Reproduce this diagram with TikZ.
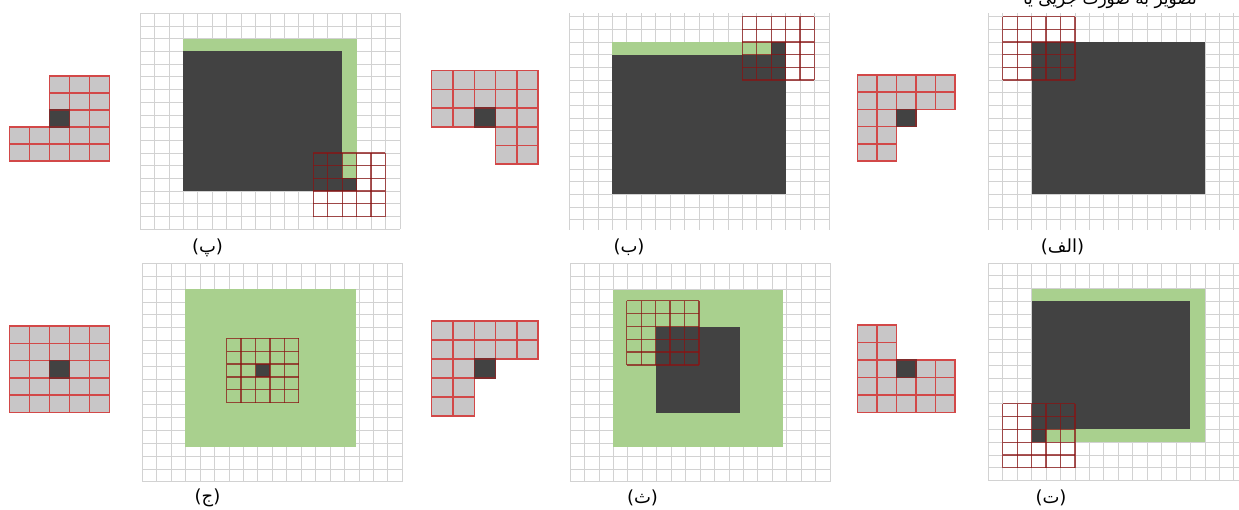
\documentclass[tikz,border=0pt]{standalone}
\usepackage{fontspec}
\newfontfamily\arabicfont[Script=Arabic]{DejaVu Sans}
\newfontfamily\parfont{DejaVu Sans}
\TeXXeTstate=1
\definecolor{gridc}{HTML}{D2D2D2}
\definecolor{darkc}{HTML}{424242}
\definecolor{greenc}{HTML}{A9D08E}
\definecolor{kgray}{HTML}{C8C6C7}
\definecolor{kred}{HTML}{D24848}
\definecolor{ovc}{HTML}{8A1212}
\tikzset{
 gridline/.style={draw=gridc, line width=0.7pt},
 ovline/.style={draw=ovc, line width=1.3pt, opacity=0.72},
 kcell/.style={draw=kred, line width=1.5pt, fill=kgray},
 kdark/.style={draw=kred!60!black, line width=1.5pt, fill=darkc},
 darkfill/.style={fill=darkc},
 greenfill/.style={fill=greenc},
 lbl/.style={font=\fontsize{18}{20}\selectfont, inner sep=0pt},
 toptext/.style={font=\arabicfont\fontsize{17}{20}\selectfont, inner sep=0pt, anchor=base}
}
\newcommand{\plabel}[1]{{\parfont(}{\arabicfont\beginR #1\endR}{\parfont)}}
\newcommand{\bigpanel}[7]{%
 \begin{scope}[shift={(#1,#2)},x=14.44pt,y=-#3pt]
  \foreach \i in {0,...,18} \draw[gridline] (\i,#4) -- (\i,#5);
  \foreach \k in {#6} \draw[gridline] (0,\k) -- (18,\k);
  #7
 \end{scope}}
\newcommand{\kover}[2]{%
 \foreach \j in {0,...,5}{%
  \draw[ovline] (#1+\j,#2) -- (#1+\j,#2+5);
  \draw[ovline] (#1,#2+\j) -- (#1+5,#2+\j);}}
\newcommand{\smallk}[5]{%
 \begin{scope}[shift={(#1,#2)},x=#3pt,y=-#4pt]
  \foreach \c/\r in {#5} \draw[kcell] (\c,\r) rectangle ++(1,1);
  \draw[kdark] (2,2) rectangle ++(1,1);
 \end{scope}}
\begin{document}
\begin{tikzpicture}[x=1pt,y=-1pt]
\useasboundingbox (0,0) rectangle (1239,509);
\fill[white] (0,0) rectangle (1239,509);
\clip (0,0) rectangle (1239,509);

% ---------- top row ----------
% (پ)
\smallk{9.3}{76}{20}{17}{2/0,3/0,4/0,2/1,3/1,4/1,3/2,4/2,0/3,1/3,2/3,3/3,4/3,0/4,1/4,2/4,3/4,4/4}
\bigpanel{140}{13.3}{12.7}{0}{17}{0,...,17}{%
 \fill[greenfill] (3,2) rectangle (15,13);
 \fill[darkfill] (3,3) rectangle (14,14);
 \fill[darkfill] (14,13) rectangle (15,14);
 \kover{12}{11}}
% (ب)
\smallk{431.7}{70.7}{21.3}{18.7}{0/0,1/0,2/0,3/0,4/0,0/1,1/1,2/1,3/1,4/1,0/2,1/2,3/2,4/2,3/3,4/3,3/4,4/4}
\bigpanel{569}{16.5}{12.7}{-0.25}{16.8}{0,...,16}{%
 \fill[greenfill] (3,2) rectangle (14,3);
 \fill[darkfill] (3,3) rectangle (15,14);
 \fill[darkfill] (14,2) rectangle (15,3);
 \kover{12}{0}}
% (الف)
\smallk{857.3}{75}{19.5}{17.2}{0/0,1/0,2/0,3/0,4/0,0/1,1/1,2/1,3/1,4/1,0/2,1/2,0/3,1/3,0/4,1/4}
\bigpanel{988.3}{16.5}{12.7}{-0.25}{16.8}{0,...,16}{%
 \fill[darkfill] (3,2) rectangle (15,14);
 \kover{1}{0}}

% ---------- bottom row ----------
% (ج)
\smallk{9.3}{326}{20}{17.3}{0/0,1/0,2/0,3/0,4/0,0/1,1/1,2/1,3/1,4/1,0/2,1/2,3/2,4/2,0/3,1/3,2/3,3/3,4/3,0/4,1/4,2/4,3/4,4/4}
\bigpanel{142.3}{263.3}{12.85}{0}{17}{0,...,17}{%
 \fill[greenfill] (2.96,2.02) rectangle (14.8,14.32);
 \fill[darkfill] (7.84,7.84) rectangle (8.84,8.84);
 \kover{5.84}{5.84}}
% (ث)
\smallk{431.7}{321}{21.3}{19}{0/0,1/0,2/0,3/0,4/0,0/1,1/1,2/1,3/1,4/1,0/2,1/2,0/3,1/3,0/4,1/4}
\bigpanel{570}{263.3}{12.85}{0}{17}{0,...,17}{%
 \fill[greenfill] (2.98,2.08) rectangle (14.73,14.32);
 \fill[darkfill] (5.93,4.93) rectangle (11.77,11.67);
 \kover{3.93}{2.91}}
% (ت)
\smallk{857.3}{325}{19.5}{17.5}{0/0,1/0,0/1,1/1,0/2,1/2,3/2,4/2,0/3,1/3,2/3,3/3,4/3,0/4,1/4,2/4,3/4,4/4}
\bigpanel{988.3}{263}{12.8}{0}{17.05}{0,...,17}{%
 \fill[greenfill] (3,2) rectangle (15,14);
 \fill[darkfill] (3,3) rectangle (14,13);
 \fill[darkfill] (3,13) rectangle (4,14);
 \kover{1}{11}}

% ---------- labels ----------
\node[lbl] (lblP)  at (207.5,247.5) {\plabel{پ}};
\node[lbl] (lblB)  at (629,247.5)   {\plabel{ب}};
\node[lbl] (lblA)  at (1062.5,247)  {\plabel{الف}};
\node[lbl] (lblJ)  at (207.5,498)   {\plabel{ج}};
\node[lbl] (lblTh) at (642.5,497.5) {\plabel{ث}};
\node[lbl] (lblT)  at (1051,498)    {\plabel{ت}};

% ---------- clipped caption line at the top ----------
\node[toptext] (topline) at (1110,4.5) {\beginR تصویر به صورت جزیی یا\endR};
\end{tikzpicture}
\end{document}
